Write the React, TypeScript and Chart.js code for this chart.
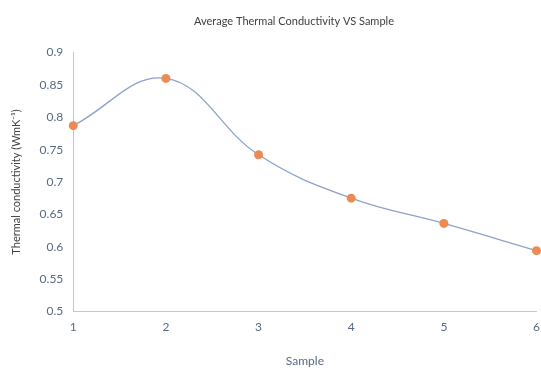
import React, { useEffect, useRef } from "react";
import { Chart, registerables } from "chart.js";

Chart.register(...registerables);

const samples = [1, 2, 3, 4, 5, 6];
const conductivity = [0.787, 0.86, 0.742, 0.675, 0.636, 0.594];
const yTicks = [0.5, 0.55, 0.6, 0.65, 0.7, 0.75, 0.8, 0.85, 0.9];
const chartTitle = "Average Thermal Conductivity VS Sample";

const FONT = "Lato";
const TICK_COLOR = "#586A82";
const AXIS_COLOR = "#B9C8E2";

const titlePlugin = {
  id: "offsetTitle",
  afterDraw(chart: any) {
    const c = chart.ctx;
    c.save();
    c.font = `11px ${FONT}`;
    c.fillStyle = "#404040";
    c.textAlign = "center";
    c.textBaseline = "middle";
    c.fillText(chartTitle, 294, 21);
    c.restore();
  },
};

export default function App() {
  const ref = useRef<HTMLCanvasElement | null>(null);

  useEffect(() => {
    document.body.style.margin = "0";
    const ctx = ref.current!;
    const chart = new Chart(ctx, {
      type: "line",
      data: {
        datasets: [
          {
            data: samples.map((s, i) => ({ x: s, y: conductivity[i] })),
            borderColor: "#8EA2CB",
            borderWidth: 1.3,
            backgroundColor: "#EB8A52",
            pointBackgroundColor: "#EB8A52",
            pointBorderColor: "#EB8A52",
            pointRadius: 4.5,
            pointBorderWidth: 0,
            tension: 0.4,
            clip: false,
          } as any,
        ],
      },
      plugins: [titlePlugin],
      options: {
        animation: false,
        responsive: false,
        layout: { padding: { top: 52.5, left: 0, right: 0, bottom: 0 } },
        plugins: {
          legend: { display: false },
          tooltip: { enabled: false },
          title: { display: false },
        },
        scales: {
          x: {
            type: "linear",
            min: 1,
            max: 6,
            afterFit: (s: any) => {
              s.height = 58.5;
              s.paddingLeft = 0;
              s.paddingRight = 4;
            },
            ticks: {
              stepSize: 1,
              color: TICK_COLOR,
              font: { family: FONT, size: 12 },
              padding: 8,
            },
            grid: { display: false, drawTicks: false },
            border: { display: true, color: AXIS_COLOR, width: 1 },
            title: {
              display: true,
              text: "Sample",
              color: TICK_COLOR,
              font: { family: FONT, size: 12 },
              padding: { top: 0, bottom: 2 },
            },
          },
          y: {
            type: "linear",
            min: 0.5,
            max: 0.9,
            afterFit: (s: any) => {
              s.width = 73.3;
              s.paddingTop = 0;
              s.paddingBottom = 0;
            },
            afterBuildTicks: (s: any) => {
              s.ticks = yTicks.map((v) => ({ value: v }));
            },
            ticks: {
              color: TICK_COLOR,
              font: { family: FONT, size: 12 },
              padding: 10,
              callback: (v: any) => String(Number(v)),
            },
            grid: { display: false, drawTicks: false },
            border: { display: true, color: AXIS_COLOR, width: 1 },
            title: {
              display: true,
              text: "Thermal conductivity (WmK⁻¹)",
              color: "#404040",
              font: { family: FONT, size: 11 },
              padding: { top: 10, bottom: 0 },
            },
          },
        },
      },
    });
    return () => chart.destroy();
  }, []);

  return (
    <div style={{ position: "absolute", left: 0, top: 0, width: 541, height: 370 }}>
      <canvas ref={ref} width={541} height={370} style={{ width: 541, height: 370 }} />
    </div>
  );
}
